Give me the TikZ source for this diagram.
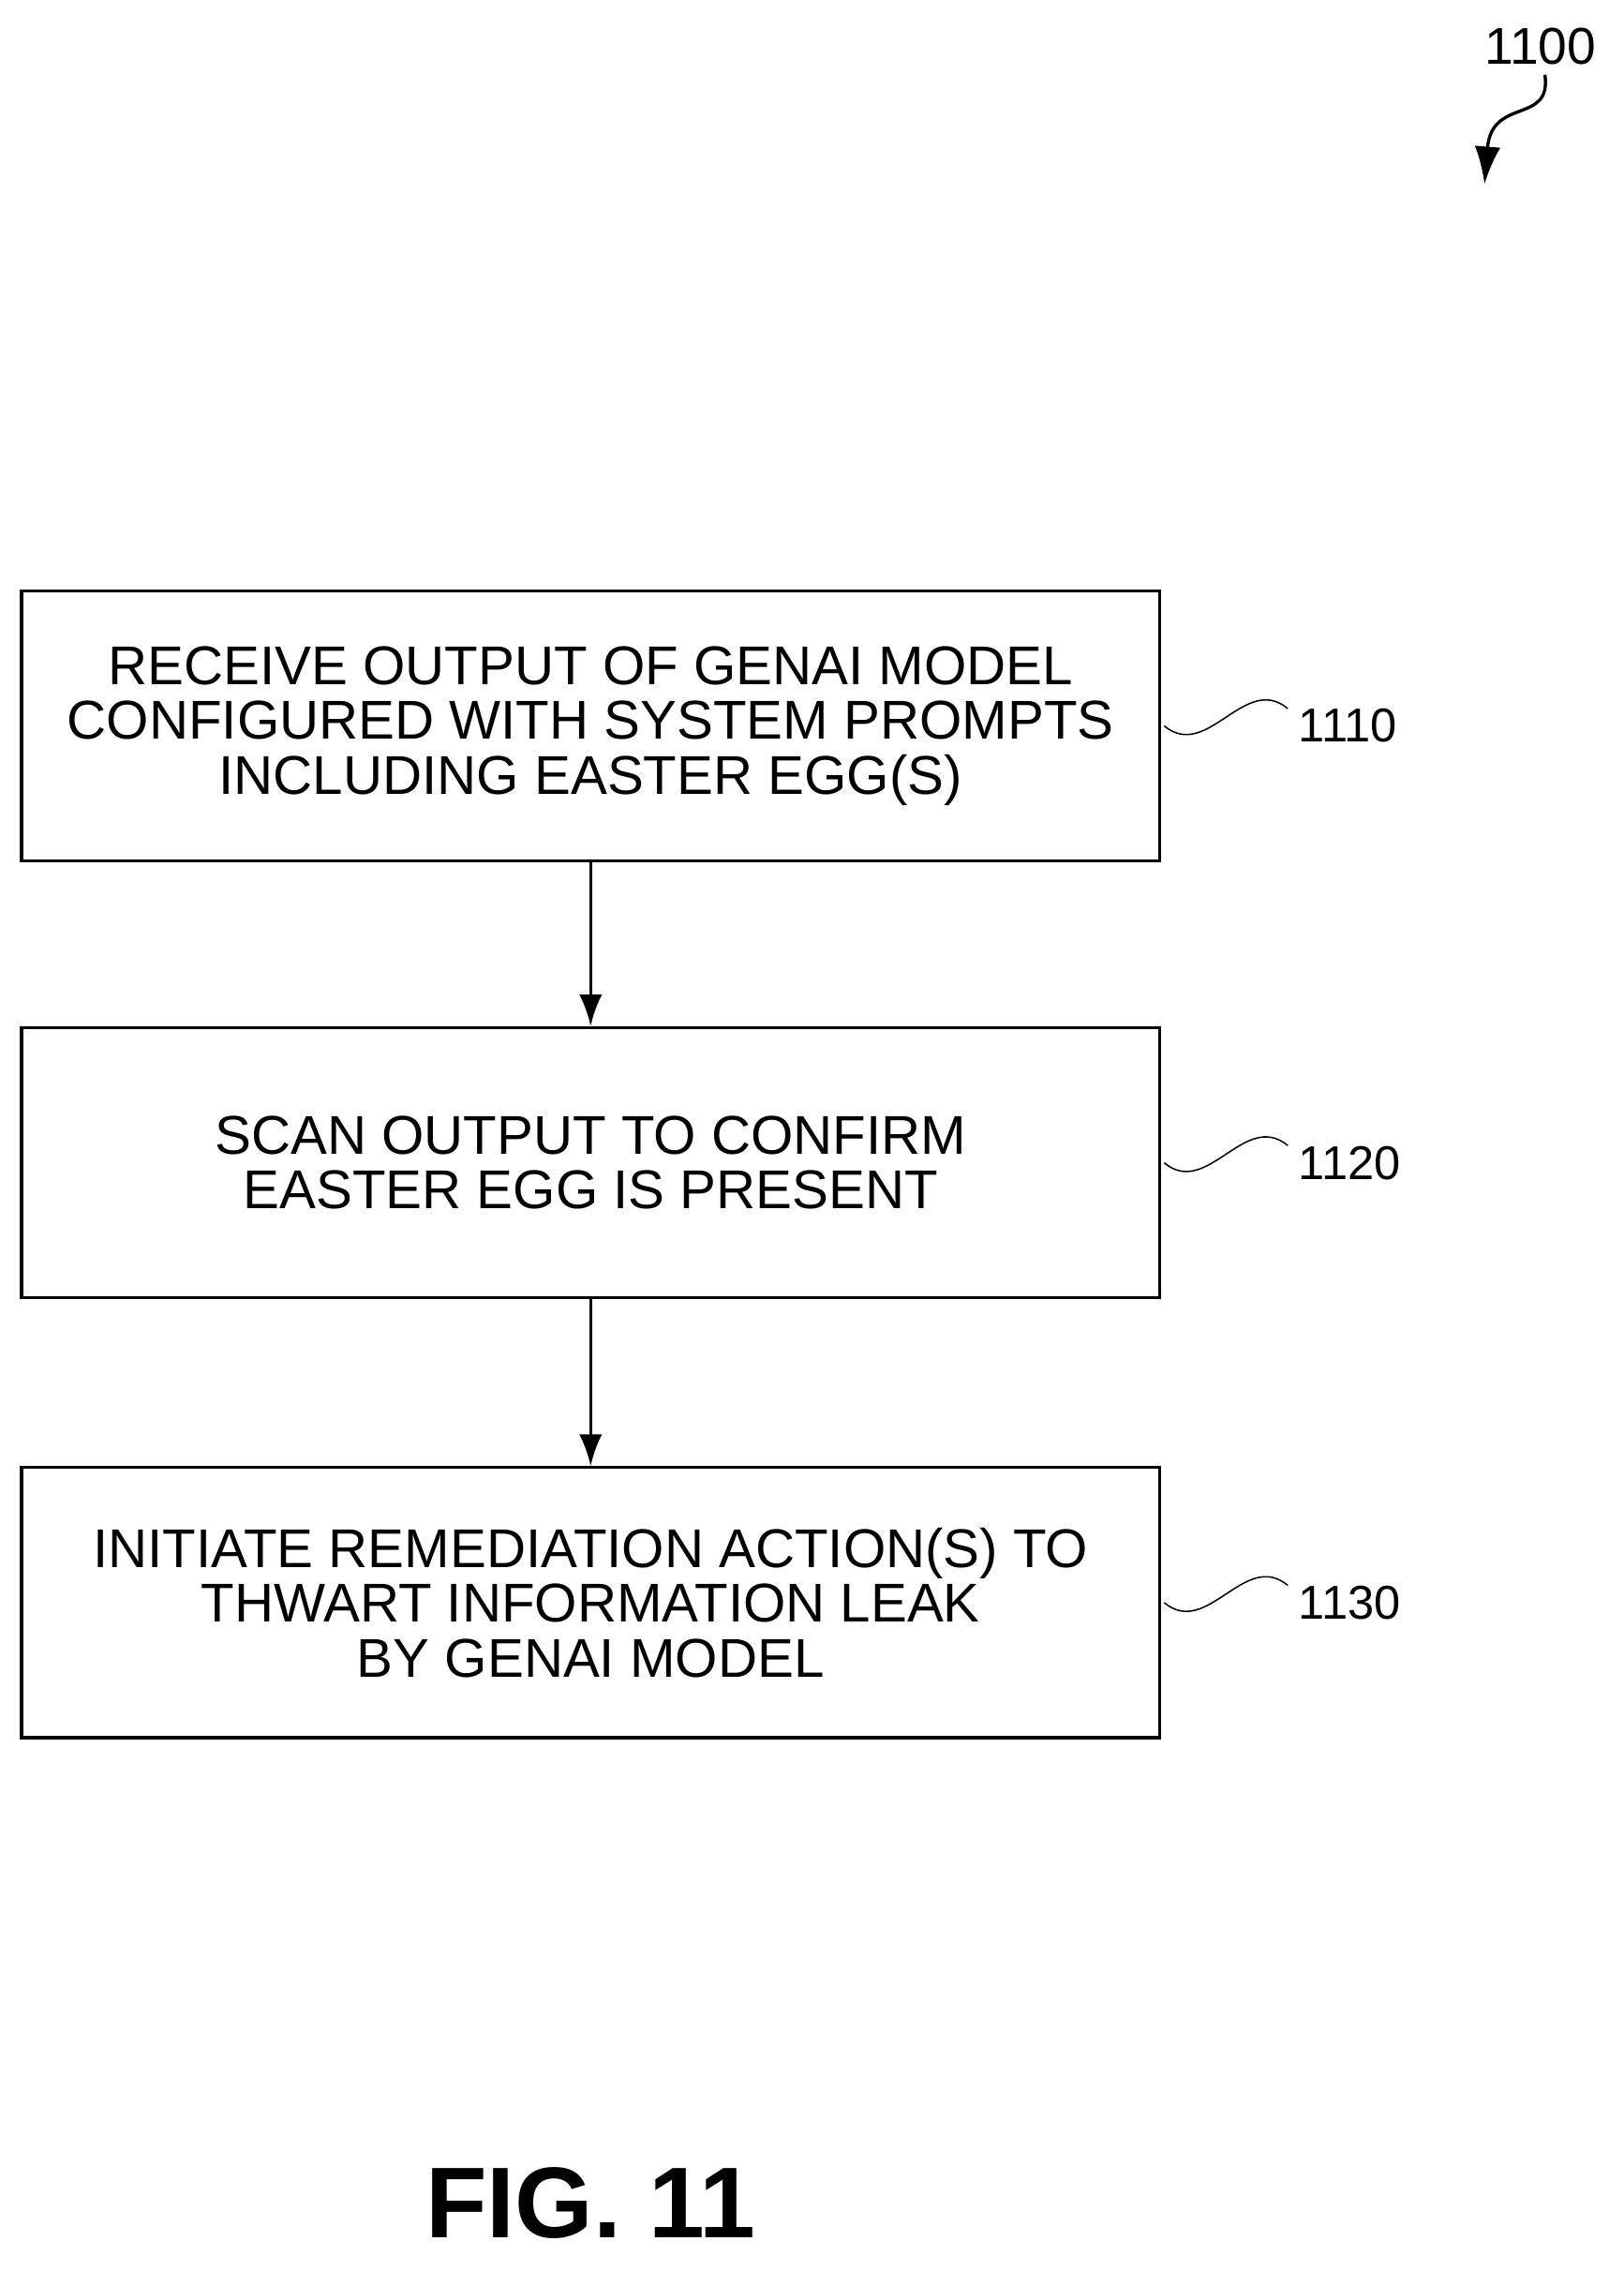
\documentclass[tikz,border=0pt]{standalone}
\usepackage{fontspec}
\setmainfont{Liberation Sans}
\begin{document}
\begin{tikzpicture}[x=1bp,y=-1bp,
  box/.style={draw,line width=2.2bp,minimum width=792bp,minimum height=188bp,align=center,inner sep=0,font=\fontsize{38bp}{38bp}\selectfont},
  lab/.style={font=\fontsize{33bp}{36bp}\selectfont,anchor=west},
  arr/.style={line width=2.2bp,-{Latex[length=22bp,width=16bp]}},
  sq/.style={line width=1bp}]
\usetikzlibrary{arrows.meta}
\useasboundingbox (0,0) rectangle (1130,1580);
\node[box] (b1) at (411,505) {RECEIVE OUTPUT OF GENAI MODEL\\CONFIGURED WITH SYSTEM PROMPTS\\INCLUDING EASTER EGG(S)};
\node[box] (b2) at (411,809) {SCAN OUTPUT TO CONFIRM\\EASTER EGG IS PRESENT};
\node[box] (b3) at (411,1115) {INITIATE REMEDIATION ACTION(S) TO\\THWART INFORMATION LEAK\\BY GENAI MODEL};
\draw[arr] (b1.south) -- (b2.north);
\draw[arr] (b2.south) -- (b3.north);
\foreach \n/\t in {b1/1110,b2/1120,b3/1130}{
  \coordinate (s\n) at ([xshift=2bp,yshift=0bp]\n.east);
  \coordinate (e\n) at ([xshift=88bp,yshift=12bp]\n.east);
  \draw[sq] (s\n) .. controls ([xshift=30bp,yshift=-25bp]s\n) and ([xshift=-30bp,yshift=25bp]e\n) .. (e\n);
  \node[lab] (l\n) at ([xshift=4bp,yshift=-12bp]e\n) {\t};
}
\node[font=\fontsize{36bp}{38bp}\selectfont] (t) at (1072,32) {1100};
\coordinate (a0) at (1075,52);
\coordinate (a1) at (1033,128);
\draw[line width=2.2bp,-{Latex[length=26bp,width=18bp]}] (a0) .. controls (1080,87) and (1038,67) .. (a1);
\node[font=\bfseries\fontsize{70bp}{72bp}\selectfont] (fig) at (411,1533) {FIG. 11};
\end{tikzpicture}
\end{document}
